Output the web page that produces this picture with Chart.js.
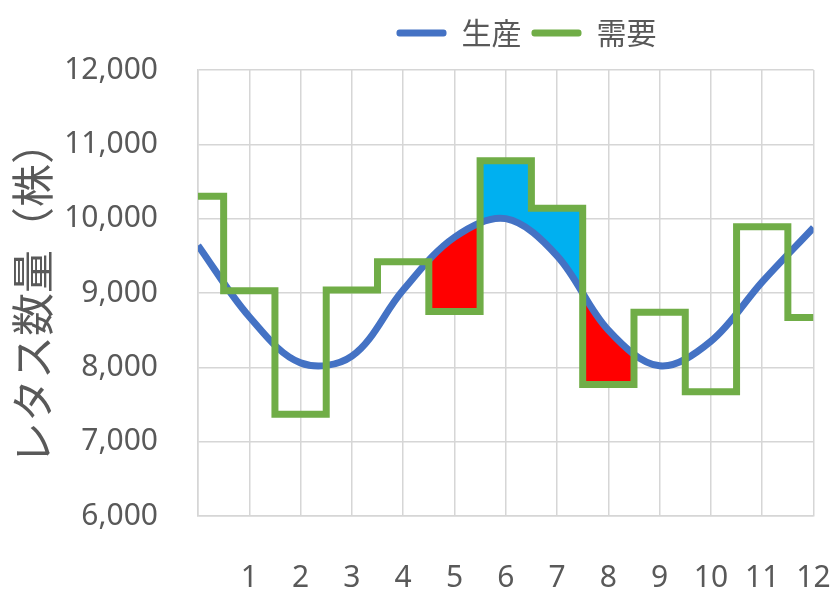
<!DOCTYPE html>
<html>
<head>
<meta charset="utf-8">
<script src="https://cdn.jsdelivr.net/npm/chart.js@4.4.1/dist/chart.umd.min.js"></script>
<style>
html,body{margin:0;padding:0;background:#ffffff;}
#wrap{width:831px;height:605px;}
</style>
</head>
<body>
<div id="wrap"><canvas id="c" width="831" height="605"></canvas></div>
<script>
// ---- data ----
const months = [0, 1, 2, 3, 4, 5, 6, 7, 8, 9, 10, 11, 12];
const monthLabels = ['', '1', '2', '3', '4', '5', '6', '7', '8', '9', '10', '11', '12'];
const production = [9640, 8680, 8060, 8150, 9040, 9750, 10000, 9500, 8500, 8020, 8350, 9150, 9880];
const demand = [10300, 9030, 7370, 9040, 9420, 8750, 10780, 10140, 7770, 8740, 7670, 9890, 8670];
const seriesNames = ['生産', '需要'];
const yAxisTitle = 'レタス数量（株）';
const redMonths = [5, 8];   // production above demand (highlighted red)
const blueMonths = [6, 7];  // demand above production (highlighted blue)

const BLUE = '#4472C4', GREEN = '#70AD47', RED = '#FF0000', SKY = '#00B0F0';
const TEXT = '#595959', GRID = '#d6d6d6';

const toPts = arr => arr.map((v, i) => ({x: months[i], y: v}));

function bandFill(context) {
  const chart = context.chart;
  const area = chart.chartArea;
  const xs = chart.scales && chart.scales.x;
  const clear = 'rgba(0,0,0,0)';
  if (!area || !xs) return clear;
  const g = chart.ctx.createLinearGradient(area.left, 0, area.right, 0);
  const f = v => Math.min(1, Math.max(0, (xs.getPixelForValue(v) - area.left) / (area.right - area.left)));
  const bands = [];
  redMonths.forEach(m => bands.push({from: m - 0.5, to: m + 0.5, color: RED}));
  blueMonths.forEach(m => bands.push({from: m - 0.5, to: m + 0.5, color: SKY}));
  bands.sort((a, b) => a.from - b.from);
  g.addColorStop(0, clear);
  bands.forEach(b => {
    g.addColorStop(f(b.from), clear);
    g.addColorStop(f(b.from), b.color);
    g.addColorStop(f(b.to), b.color);
    g.addColorStop(f(b.to), clear);
  });
  g.addColorStop(1, clear);
  return g;
}

const legendShift = {
  id: 'legendShift',
  afterLayout(chart) {
    const l = chart.legend;
    if (l) { l.left += 110; l.right += 110; }
  }
};

Chart.defaults.font.family = "'Noto Sans', 'Noto Sans CJK JP', sans-serif";
Chart.defaults.color = TEXT;

new Chart(document.getElementById('c'), {
  type: 'line',
  data: {
    datasets: [
      {
        label: seriesNames[0],
        data: toPts(production),
        borderColor: BLUE,
        backgroundColor: BLUE,
        borderWidth: 7,
        tension: 0.35,
        pointRadius: 0,
        fill: false,
        order: 1
      },
      {
        label: seriesNames[1],
        data: toPts(demand),
        borderColor: GREEN,
        backgroundColor: GREEN,
        borderWidth: 7,
        stepped: 'middle',
        borderJoinStyle: 'miter',
        pointRadius: 0,
        fill: false,
        order: 0
      },
      {
        label: '',
        data: toPts(production),
        borderColor: 'rgba(0,0,0,0)',
        borderWidth: 0,
        tension: 0.35,
        pointRadius: 0,
        fill: 1,
        backgroundColor: bandFill,
        order: 2
      }
    ]
  },
  options: {
    responsive: false,
    animation: false,
    events: [],
    layout: {padding: {left: 5, right: 3, top: 8, bottom: 7}},
    plugins: {
      tooltip: {enabled: false},
      legend: {
        position: 'top',
        labels: {
          boxWidth: 50,
          boxHeight: 7,
          padding: 10,
          color: TEXT,
          useBorderRadius: true,
          borderRadius: 3,
          font: {family: "'Noto Sans CJK JP'", size: 30},
          generateLabels: () => [
            {text: seriesNames[0], fillStyle: BLUE, strokeStyle: BLUE, lineWidth: 0, datasetIndex: 0, fontColor: TEXT, borderRadius: 3},
            {text: seriesNames[1], fillStyle: GREEN, strokeStyle: GREEN, lineWidth: 0, datasetIndex: 1, fontColor: TEXT, borderRadius: 3}
          ]
        }
      }
    },
    scales: {
      x: {
        type: 'linear',
        min: 0,
        max: 12,
        grid: {color: GRID, lineWidth: 1.5, drawTicks: false},
        border: {color: GRID, width: 1.5},
        ticks: {
          stepSize: 1,
          padding: 44,
          color: TEXT,
          font: {size: 30},
          maxRotation: 0,
          autoSkip: false,
          callback: v => monthLabels[v]
        },
        afterFit: s => { s.height = 82; s.paddingLeft = 0; s.paddingRight = 17.5; }
      },
      xTop: {
        type: 'linear',
        position: 'top',
        min: 0,
        max: 12,
        grid: {display: false, drawTicks: false},
        border: {display: false},
        ticks: {display: false},
        afterFit: s => { s.height = 12; s.paddingLeft = 0; s.paddingRight = 0; }
      },
      y: {
        min: 6000,
        max: 12000,
        grid: {color: GRID, lineWidth: 1.5, drawTicks: false},
        border: {color: GRID, width: 1.5},
        ticks: {
          stepSize: 1000,
          padding: 40,
          color: TEXT,
          font: {size: 30},
          callback: v => v.toLocaleString('en-US')
        },
        title: {
          display: true,
          text: yAxisTitle,
          color: TEXT,
          font: {family: "'Noto Sans CJK JP'", size: 43},
          padding: {top: 2, bottom: 4}
        },
        afterFit: s => { s.width = 193; s.paddingTop = 0; s.paddingBottom = 0; }
      }
    }
  },
  plugins: [legendShift]
});
</script>
</body>
</html>
